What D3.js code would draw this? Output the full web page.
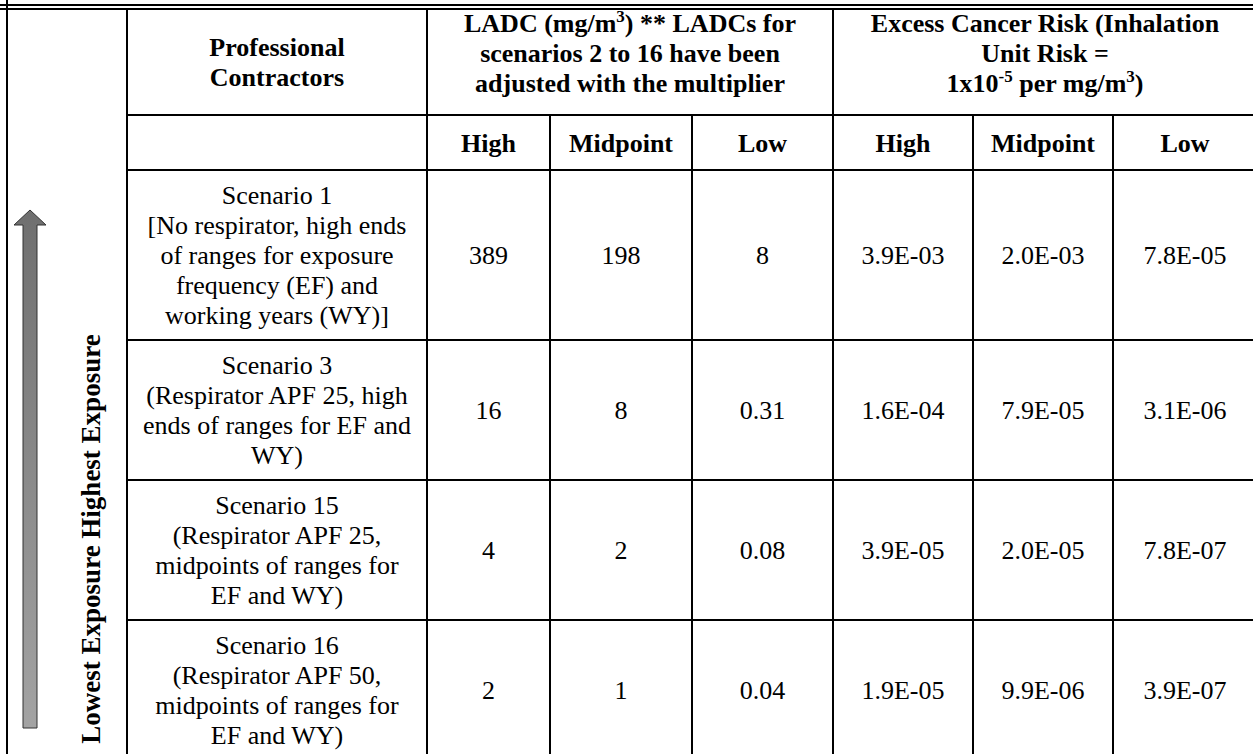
<!DOCTYPE html>
<html>
<head>
<meta charset="utf-8">
<script src="https://cdn.jsdelivr.net/npm/d3@7"></script>
<style>
  body { margin: 0; background: #fff; }
  svg { display: block; }
</style>
</head>
<body>
<div id="chart"></div>
<script>
// table content
const scenarioLabels = [
    ['Scenario 1', '[No respirator, high ends', 'of ranges for exposure', 'frequency (EF) and', 'working years (WY)]'],
    ['Scenario 3', '(Respirator APF 25, high', 'ends of ranges for EF and', 'WY)'],
    ['Scenario 15', '(Respirator APF 25,', 'midpoints of ranges for', 'EF and WY)'],
    ['Scenario 16', '(Respirator APF 50,', 'midpoints of ranges for', 'EF and WY)']
];
const ladcHigh = [389, 16, 4, 2];
const ladcMid = [198, 8, 2, 1];
const ladcLow = [8, 0.31, 0.08, 0.04];
const riskHigh = [3.9e-3, 1.6e-4, 3.9e-5, 1.9e-5];
const riskMid = [2.0e-3, 7.9e-5, 2.0e-5, 9.9e-6];
const riskLow = [7.8e-5, 3.1e-6, 7.8e-7, 3.9e-7];
const subHeaders = ['High', 'Midpoint', 'Low'];
const sideLabel = 'Lowest Exposure Highest Exposure';

const W = 1253, H = 754;
const FONT = '"Liberation Serif", "Times New Roman", Times, serif';
const FS = 26, LH = 30, PAD = 20;
const colNames = ['label', 'ladcHigh', 'ladcMid', 'ladcLow', 'riskHigh', 'riskMid', 'riskLow'];
const colEdges = [127, 427, 550, 692, 833, 973, 1113, 1257];
const tableTop = 9, head1 = 115, head2 = 170;

const xCenter = d3.scaleOrdinal()
    .domain(colNames)
    .range(colNames.map((c, i) => (colEdges[i] + colEdges[i + 1]) / 2));

// body row edges from the number of text lines
const rowHeights = scenarioLabels.map(l => l.length * LH + PAD);
const rowEdges = [head2].concat(Array.from(d3.cumsum(rowHeights), v => head2 + v));
const yRow = d3.scaleOrdinal()
    .domain(d3.range(scenarioLabels.length))
    .range(d3.range(scenarioLabels.length).map(i => (rowEdges[i] + rowEdges[i + 1]) / 2));

const fmtE = v => {
    const [m, e] = v.toExponential(1).split('e');
    const n = +e;
    return m + 'E' + (n < 0 ? '-' : '+') + String(Math.abs(n)).padStart(2, '0');
};
const fmtN = d3.format('');

const svg = d3.select('#chart').append('svg')
    .attr('width', W)
    .attr('height', H)
    .attr('font-family', FONT);

svg.append('rect').attr('width', W).attr('height', H).attr('fill', '#fff');

const grid = svg.append('g').attr('stroke', '#000').attr('fill', 'none');

// top double rule and outer left border
grid.append('line').attr('x1', 0).attr('x2', W).attr('y1', 5).attr('y2', 5).attr('stroke-width', 2);
grid.append('line').attr('x1', 0).attr('x2', W).attr('y1', 9).attr('y2', 9).attr('stroke-width', 1.8);
grid.append('line').attr('x1', 7).attr('x2', 7).attr('y1', 0).attr('y2', H).attr('stroke-width', 2);

// horizontal rules
const hLines = [head1, head2].concat(rowEdges.slice(1));
grid.selectAll('line.h').data(hLines).enter().append('line')
    .attr('class', 'h')
    .attr('x1', colEdges[0]).attr('x2', W)
    .attr('y1', d => d).attr('y2', d => d)
    .attr('stroke-width', 2);

// vertical rules (merged header cells only keep the group borders)
grid.selectAll('line.v').data(colEdges.slice(0, -1)).enter().append('line')
    .attr('class', 'v')
    .attr('x1', d => d).attr('x2', d => d)
    .attr('y1', (d, i) => (i === 0 || i === 1 || i === 4) ? tableTop : head1)
    .attr('y2', H + 10)
    .attr('stroke-width', 2);

const txt = svg.append('g')
    .attr('font-family', FONT)
    .attr('font-size', FS)
    .attr('fill', '#000')
    .attr('text-anchor', 'middle');

function multiline(g, lines, x, cy, bold) {
    const t = g.append('text')
        .attr('x', x)
        .attr('font-weight', bold ? 'bold' : 'normal');
    const y0 = cy - (lines.length - 1) * LH / 2;
    lines.forEach((ln, i) => {
        t.append('tspan').attr('x', x).attr('y', y0 + i * LH).attr('dy', '0.35em').text(ln);
    });
    return t;
}

// header row 1
const h1c = (tableTop + head1) / 2;
multiline(txt, ['Professional', 'Contractors'], xCenter('label'), h1c, true);

const ladcX = (colEdges[1] + colEdges[4]) / 2;
const riskX = (colEdges[4] + colEdges[7]) / 2;

// parts: plain strings, or [superscript] arrays
function supLine(g, x, y, parts) {
    const t = g.append('text').attr('x', x).attr('y', y).attr('dy', '0.35em').attr('font-weight', 'bold');
    let raised = false;
    parts.forEach(p => {
        if (Array.isArray(p)) {
            t.append('tspan').attr('font-size', 17).attr('dy', raised ? 0 : -10).text(p[0]);
            raised = true;
        } else {
            t.append('tspan').attr('dy', raised ? 10 : 0).text(p);
            raised = false;
        }
    });
}
supLine(txt, ladcX, h1c - LH, ['LADC (mg/m', ['3'], ') ** LADCs for']);
supLine(txt, ladcX, h1c, ['scenarios 2 to 16 have been']);
supLine(txt, ladcX, h1c + LH, ['adjusted with the multiplier']);

supLine(txt, riskX, h1c - LH, ['Excess Cancer Risk (Inhalation']);
supLine(txt, riskX, h1c, ['Unit Risk =']);
supLine(txt, riskX, h1c + LH, ['1x10', ['-5'], ' per mg/m', ['3'], ')']);

// header row 2
const h2c = (head1 + head2) / 2;
const subCols = colNames.slice(1);
txt.selectAll('text.sub').data(subCols).enter().append('text')
    .attr('class', 'sub')
    .attr('font-weight', 'bold')
    .attr('x', d => xCenter(d))
    .attr('y', h2c)
    .attr('dy', '0.35em')
    .text((d, i) => subHeaders[i % 3]);

// body rows
scenarioLabels.forEach((lines, i) => {
    multiline(txt, lines, xCenter('label'), yRow(i), false);
});

const valueCols = [
    ['ladcHigh', ladcHigh, fmtN],
    ['ladcMid', ladcMid, fmtN],
    ['ladcLow', ladcLow, fmtN],
    ['riskHigh', riskHigh, fmtE],
    ['riskMid', riskMid, fmtE],
    ['riskLow', riskLow, fmtE]
];
valueCols.forEach(([key, vals, f]) => {
    txt.selectAll('text.v-' + key).data(vals).enter().append('text')
        .attr('class', 'v-' + key)
        .attr('x', xCenter(key))
        .attr('y', (d, i) => yRow(i))
        .attr('dy', '0.35em')
        .text(d => f(d));
});

// exposure arrow
const defs = svg.append('defs');
const grad = defs.append('linearGradient').attr('id', 'arrowGrad')
    .attr('x1', 0).attr('x2', 0).attr('y1', 0).attr('y2', 1);
grad.append('stop').attr('offset', '0%').attr('stop-color', '#6f6f6f');
grad.append('stop').attr('offset', '100%').attr('stop-color', '#a3a3a3');

const ax = 30, tipY = 210, baseY = 225, endY = 728, headW = 16, shaftW = 7;
const arrowPath = d3.path();
arrowPath.moveTo(ax, tipY);
arrowPath.lineTo(ax + headW, baseY);
arrowPath.lineTo(ax + shaftW, baseY);
arrowPath.lineTo(ax + shaftW, endY);
arrowPath.lineTo(ax - shaftW, endY);
arrowPath.lineTo(ax - shaftW, baseY);
arrowPath.lineTo(ax - headW, baseY);
arrowPath.closePath();
svg.append('path')
    .attr('d', arrowPath.toString())
    .attr('fill', 'url(#arrowGrad)')
    .attr('stroke', '#333')
    .attr('stroke-width', 1);

svg.append('text')
    .attr('transform', 'translate(91,539) rotate(-90)')
    .attr('text-anchor', 'middle')
    .attr('dy', '0.35em')
    .attr('font-family', FONT)
    .attr('font-size', 27)
    .attr('font-weight', 'bold')
    .text(sideLabel);
</script>
</body>
</html>
